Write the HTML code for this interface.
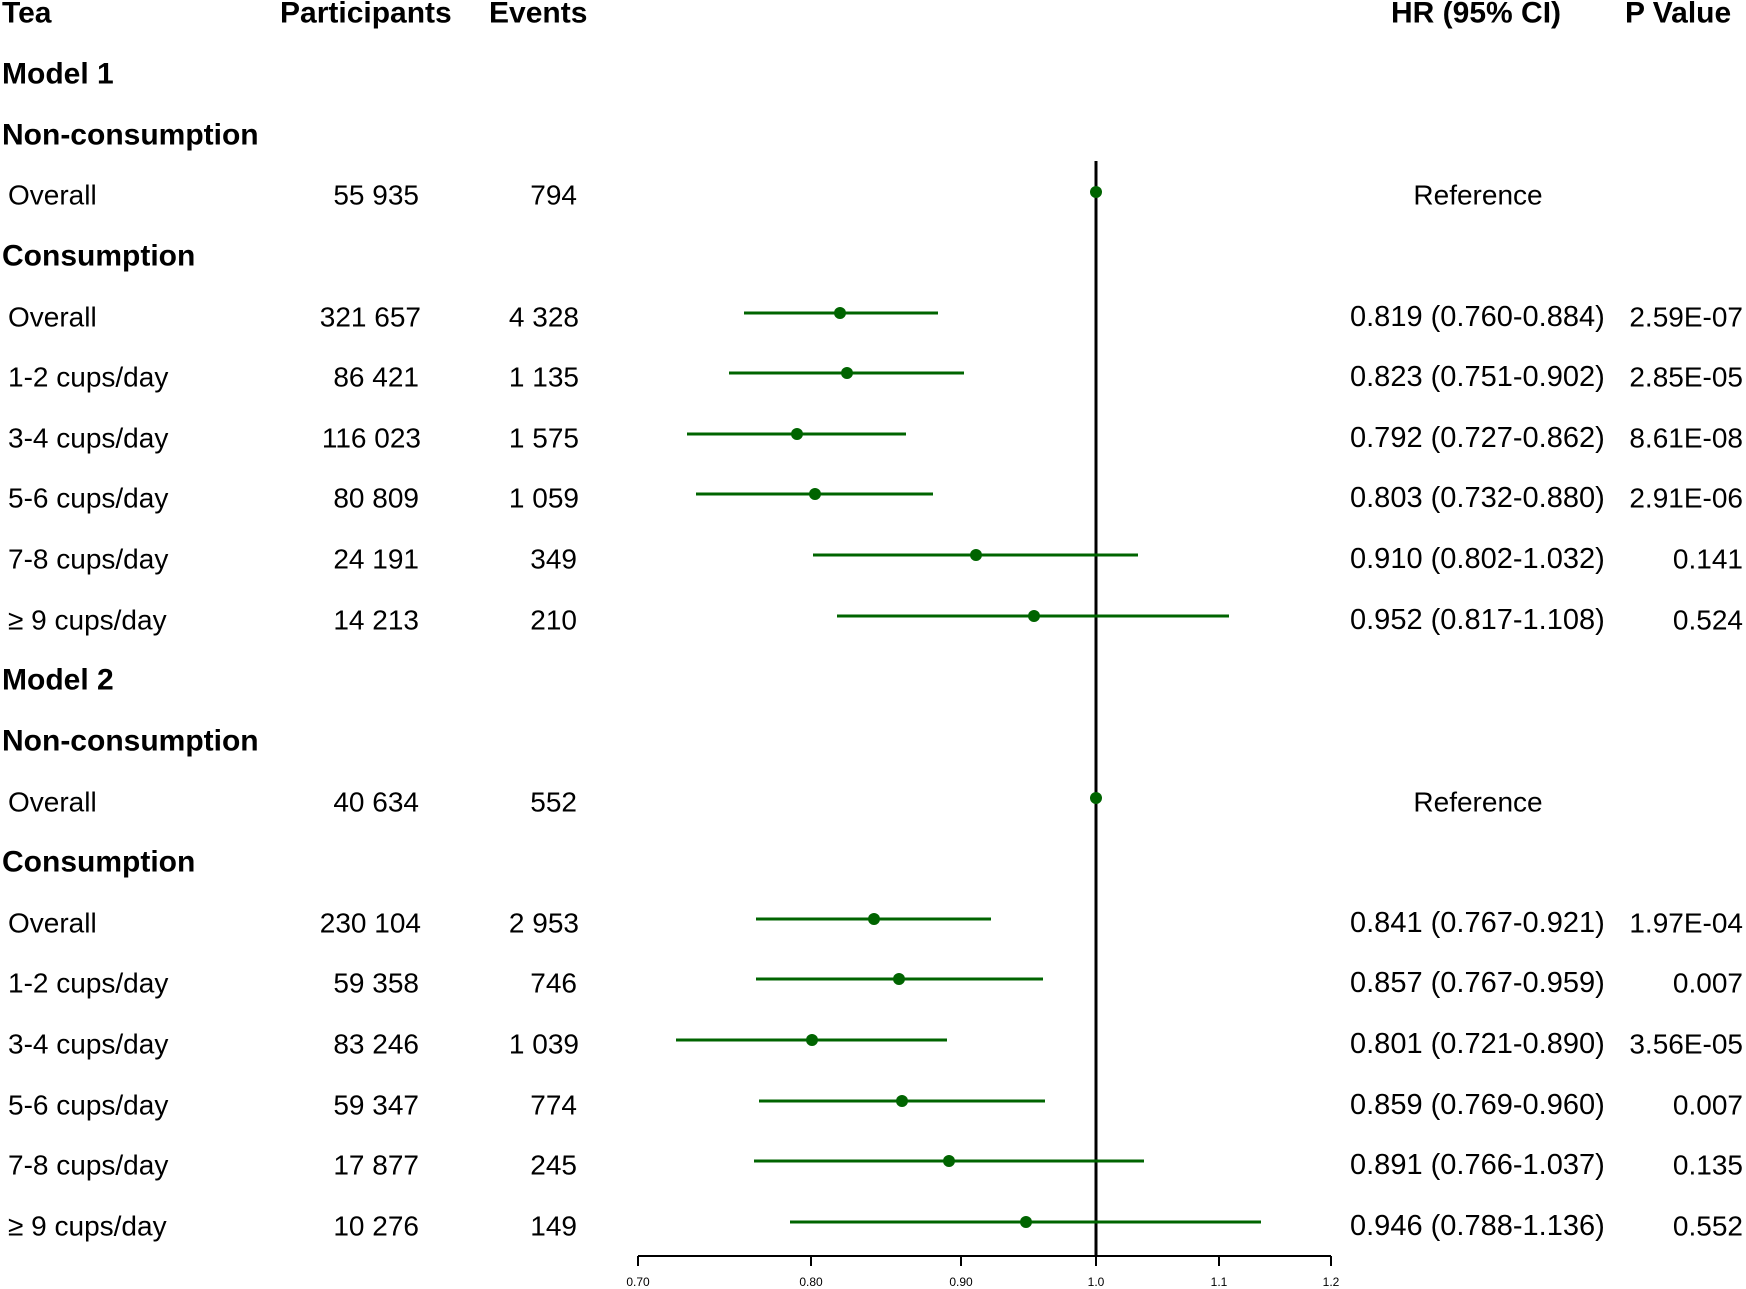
<!DOCTYPE html>
<html><head><meta charset="utf-8"><style>
html,body{margin:0;padding:0;background:#fff}
svg{display:block}
text{font-family:"Liberation Sans",Arial,sans-serif;font-size:28px;fill:#000;dominant-baseline:central}
.b{font-weight:bold;font-size:30px}
.r{text-anchor:end}
.m{text-anchor:middle}
.h{font-size:29px}
.t{font-size:12px}
</style></head><body>
<svg width="1746" height="1289" viewBox="0 0 1746 1289" xmlns="http://www.w3.org/2000/svg">
<text class="b" x="2" y="13">Tea</text>
<text class="b" x="280" y="13">Participants</text>
<text class="b" x="489" y="13">Events</text>
<text class="b" x="1391" y="13">HR (95% CI)</text>
<text class="b" x="1625" y="13">P Value</text>

<text class="b" x="2" y="74">Model 1</text>
<text class="b" x="2" y="135">Non-consumption</text>
<text x="8" y="195">Overall</text><text class="r" x="419" y="195">55 935</text><text class="r" x="577" y="195">794</text><text class="m" x="1478" y="195">Reference</text>
<text class="b" x="2" y="256">Consumption</text>
<text x="8" y="317">Overall</text><text class="r" x="421" y="317">321 657</text><text class="r" x="579" y="317">4 328</text><text class="h" x="1350" y="317">0.819 (0.760-0.884)</text><text class="r" x="1743" y="317">2.59E-07</text>
<text x="8" y="377">1-2 cups/day</text><text class="r" x="419" y="377">86 421</text><text class="r" x="579" y="377">1 135</text><text class="h" x="1350" y="377">0.823 (0.751-0.902)</text><text class="r" x="1743" y="377">2.85E-05</text>
<text x="8" y="438">3-4 cups/day</text><text class="r" x="421" y="438">116 023</text><text class="r" x="579" y="438">1 575</text><text class="h" x="1350" y="438">0.792 (0.727-0.862)</text><text class="r" x="1743" y="438">8.61E-08</text>
<text x="8" y="498">5-6 cups/day</text><text class="r" x="419" y="498">80 809</text><text class="r" x="579" y="498">1 059</text><text class="h" x="1350" y="498">0.803 (0.732-0.880)</text><text class="r" x="1743" y="498">2.91E-06</text>
<text x="8" y="559">7-8 cups/day</text><text class="r" x="419" y="559">24 191</text><text class="r" x="577" y="559">349</text><text class="h" x="1350" y="559">0.910 (0.802-1.032)</text><text class="r" x="1743" y="559">0.141</text>
<text x="8" y="620">≥ 9 cups/day</text><text class="r" x="419" y="620">14 213</text><text class="r" x="577" y="620">210</text><text class="h" x="1350" y="620">0.952 (0.817-1.108)</text><text class="r" x="1743" y="620">0.524</text>

<text class="b" x="2" y="680">Model 2</text>
<text class="b" x="2" y="741">Non-consumption</text>
<text x="8" y="802">Overall</text><text class="r" x="419" y="802">40 634</text><text class="r" x="577" y="802">552</text><text class="m" x="1478" y="802">Reference</text>
<text class="b" x="2" y="862">Consumption</text>
<text x="8" y="923">Overall</text><text class="r" x="421" y="923">230 104</text><text class="r" x="579" y="923">2 953</text><text class="h" x="1350" y="923">0.841 (0.767-0.921)</text><text class="r" x="1743" y="923">1.97E-04</text>
<text x="8" y="983">1-2 cups/day</text><text class="r" x="419" y="983">59 358</text><text class="r" x="577" y="983">746</text><text class="h" x="1350" y="983">0.857 (0.767-0.959)</text><text class="r" x="1743" y="983">0.007</text>
<text x="8" y="1044">3-4 cups/day</text><text class="r" x="419" y="1044">83 246</text><text class="r" x="579" y="1044">1 039</text><text class="h" x="1350" y="1044">0.801 (0.721-0.890)</text><text class="r" x="1743" y="1044">3.56E-05</text>
<text x="8" y="1105">5-6 cups/day</text><text class="r" x="419" y="1105">59 347</text><text class="r" x="577" y="1105">774</text><text class="h" x="1350" y="1105">0.859 (0.769-0.960)</text><text class="r" x="1743" y="1105">0.007</text>
<text x="8" y="1165">7-8 cups/day</text><text class="r" x="419" y="1165">17 877</text><text class="r" x="577" y="1165">245</text><text class="h" x="1350" y="1165">0.891 (0.766-1.037)</text><text class="r" x="1743" y="1165">0.135</text>
<text x="8" y="1226">≥ 9 cups/day</text><text class="r" x="419" y="1226">10 276</text><text class="r" x="577" y="1226">149</text><text class="h" x="1350" y="1226">0.946 (0.788-1.136)</text><text class="r" x="1743" y="1226">0.552</text>

<line x1="1096" y1="161" x2="1096" y2="1256" stroke="#000" stroke-width="3"/>
<g stroke="#000" stroke-width="2" fill="none">
<line x1="638" y1="1256" x2="1331" y2="1256"/>
<line x1="638" y1="1256" x2="638" y2="1266"/>
<line x1="811" y1="1256" x2="811" y2="1266"/>
<line x1="961" y1="1256" x2="961" y2="1266"/>
<line x1="1096" y1="1256" x2="1096" y2="1266"/>
<line x1="1219" y1="1256" x2="1219" y2="1266"/>
<line x1="1331" y1="1256" x2="1331" y2="1266"/>
</g>
<text class="t m" x="638" y="1282">0.70</text>
<text class="t m" x="811" y="1282">0.80</text>
<text class="t m" x="961" y="1282">0.90</text>
<text class="t m" x="1096" y="1282">1.0</text>
<text class="t m" x="1219" y="1282">1.1</text>
<text class="t m" x="1331" y="1282">1.2</text>

<g stroke="#006400" stroke-width="3">
<line x1="744" y1="313" x2="938" y2="313"/>
<line x1="729" y1="373" x2="964" y2="373"/>
<line x1="687" y1="434" x2="906" y2="434"/>
<line x1="696" y1="494" x2="933" y2="494"/>
<line x1="813" y1="555" x2="1138" y2="555"/>
<line x1="837" y1="616" x2="1229" y2="616"/>
<line x1="756" y1="919" x2="991" y2="919"/>
<line x1="756" y1="979" x2="1043" y2="979"/>
<line x1="676" y1="1040" x2="947" y2="1040"/>
<line x1="759" y1="1101" x2="1045" y2="1101"/>
<line x1="754" y1="1161" x2="1144" y2="1161"/>
<line x1="790" y1="1222" x2="1261" y2="1222"/>
</g>
<g fill="#006400">
<circle cx="1096" cy="192" r="6"/>
<circle cx="840" cy="313" r="6"/>
<circle cx="847" cy="373" r="6"/>
<circle cx="797" cy="434" r="6"/>
<circle cx="815" cy="494" r="6"/>
<circle cx="976" cy="555" r="6"/>
<circle cx="1034" cy="616" r="6"/>
<circle cx="1096" cy="798" r="6"/>
<circle cx="874" cy="919" r="6"/>
<circle cx="899" cy="979" r="6"/>
<circle cx="812" cy="1040" r="6"/>
<circle cx="902" cy="1101" r="6"/>
<circle cx="949" cy="1161" r="6"/>
<circle cx="1026" cy="1222" r="6"/>
</g>
</svg>
</body></html>
